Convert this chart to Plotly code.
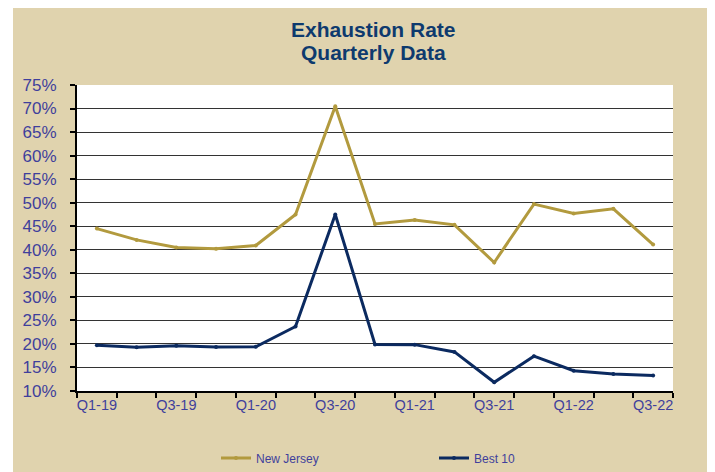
import plotly.graph_objects as go

quarters = ["Q1-19", "Q2-19", "Q3-19", "Q4-19", "Q1-20", "Q2-20", "Q3-20", "Q4-20",
            "Q1-21", "Q2-21", "Q3-21", "Q4-21", "Q1-22", "Q2-22", "Q3-22"]
new_jersey = [44.5, 42.1, 40.5, 40.2, 40.9, 47.5, 70.5, 45.5, 46.3, 45.3, 37.3, 49.7, 47.7, 48.7, 41.1]
best_10 = [19.7, 19.3, 19.6, 19.35, 19.4, 23.7, 47.5, 19.9, 19.85, 18.3, 11.85, 17.4, 14.3, 13.6, 13.3]
title_lines = ["Exhaustion Rate", "Quarterly Data"]

idx = list(range(len(quarters)))
label_idx = idx[::2]
label_txt = [quarters[i] for i in label_idx]
bounds = [i - 0.5 for i in range(len(quarters) + 1)]

TICK_COLOR = "#3F3F9C"
TITLE_COLOR = "#0E3A6E"
FONT = "Liberation Sans, Arial, sans-serif"
TAN = "#E0D3AE"
W, H = 707, 464

fig = go.Figure()
fig.add_trace(go.Scatter(x=idx, y=new_jersey, name="New Jersey", mode="lines+markers",
                         line=dict(color="#B29A3E", width=3), marker=dict(size=4, color="#B29A3E")))
fig.add_trace(go.Scatter(x=idx, y=best_10, name="Best 10", mode="lines+markers",
                         line=dict(color="#0B2A60", width=3), marker=dict(size=4, color="#0B2A60")))

title_y = [21.5, 45.0]
annotations = [dict(text="<b>%s</b>" % t, xref="paper", yref="paper", x=(365 - 69) / 596,
                    y=1 + (77 - yy) / 306, xanchor="center", yanchor="middle", showarrow=False,
                    font=dict(size=21, color=TITLE_COLOR, family=FONT))
               for t, yy in zip(title_lines, title_y)]

fig.update_layout(
    width=W, height=H,
    paper_bgcolor=TAN, plot_bgcolor="white",
    margin=dict(l=69, r=42, t=77, b=81, autoexpand=False),
    font=dict(family=FONT, color=TICK_COLOR),
    annotations=annotations,
    showlegend=True,
    legend=dict(orientation="h", x=208/W, xanchor="left", y=(H-450)/H, yanchor="middle",
                yref="container", xref="container", font=dict(size=12, color=TICK_COLOR),
                entrywidth=173, entrywidthmode="pixels", bgcolor="rgba(0,0,0,0)"),
    shapes=[
        dict(type="rect", xref="paper", yref="paper", x0=-69/596, x1=-64/596,
             y0=-81/306, y1=1 + 77/306, fillcolor="white", line_width=0, layer="below"),
    ],
)
fig.update_xaxes(range=[-0.5, 14.5], tickmode="array", tickvals=label_idx, ticktext=label_txt,
                 ticks="", showgrid=False, showline=True, linecolor="black", linewidth=2,
                 tickfont=dict(size=14.5, color=TICK_COLOR), zeroline=False,
                 minor=dict(tickmode="array", tickvals=bounds, ticks="outside", ticklen=5,
                            tickcolor="black", tickwidth=2, showgrid=False))
fig.update_yaxes(range=[10, 75], dtick=5, tick0=10, ticksuffix="%", showgrid=True, gridcolor="#333333",
                 gridwidth=1, showline=True, linecolor="black", linewidth=2, ticks="outside",
                 ticklen=5, tickcolor="black", tickwidth=2, tickfont=dict(size=17, color=TICK_COLOR),
                 zeroline=False, ticklabelstandoff=10)

fig.write_html("out.html")
